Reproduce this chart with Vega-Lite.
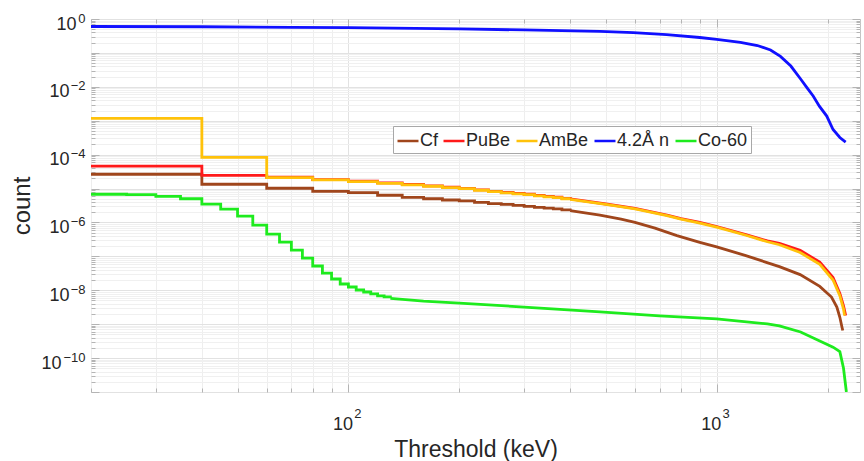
{
  "$schema": "https://vega.github.io/schema/vega-lite/v6.json",
  "width": 769,
  "height": 373,
  "autosize": {"type": "none"},
  "padding": {"left": 91, "top": 19, "right": 4, "bottom": 69},
  "background": "white",
  "config": {
    "view": {"stroke": "#c4c4c4", "strokeWidth": 1},
    "font": "Liberation Sans"
  },
  "data": {
    "values": [
      {"s": "Cf", "E": 20, "c": 2.64e-5}, {"s": "Cf", "E": 40, "c": 1.34e-5}, {"s": "Cf", "E": 60, "c": 1.02e-5},
      {"s": "Cf", "E": 80, "c": 8.3e-6}, {"s": "Cf", "E": 100, "c": 7.6e-6}, {"s": "Cf", "E": 120, "c": 6.35e-6},
      {"s": "Cf", "E": 140, "c": 5.5e-6}, {"s": "Cf", "E": 160, "c": 5.0e-6}, {"s": "Cf", "E": 180, "c": 4.6e-6},
      {"s": "Cf", "E": 200, "c": 4.3e-6}, {"s": "Cf", "E": 220, "c": 3.9e-6}, {"s": "Cf", "E": 240, "c": 3.6e-6},
      {"s": "Cf", "E": 260, "c": 3.4e-6}, {"s": "Cf", "E": 280, "c": 3.2e-6}, {"s": "Cf", "E": 300, "c": 3.0e-6},
      {"s": "Cf", "E": 320, "c": 2.8e-6}, {"s": "Cf", "E": 340, "c": 2.65e-6}, {"s": "Cf", "E": 360, "c": 2.5e-6},
      {"s": "Cf", "E": 380, "c": 2.35e-6}, {"s": "Cf", "E": 400, "c": 2.25e-6}, {"s": "Cf", "E": 482, "c": 1.65e-6},
      {"s": "Cf", "E": 550, "c": 1.25e-6}, {"s": "Cf", "E": 600, "c": 1.0e-6}, {"s": "Cf", "E": 680, "c": 6.8e-7},
      {"s": "Cf", "E": 780, "c": 4.1e-7}, {"s": "Cf", "E": 900, "c": 2.6e-7}, {"s": "Cf", "E": 1000, "c": 1.9e-7},
      {"s": "Cf", "E": 1200, "c": 1.05e-7}, {"s": "Cf", "E": 1480, "c": 5.0e-8}, {"s": "Cf", "E": 1685, "c": 2.9e-8},
      {"s": "Cf", "E": 1905, "c": 1.3e-8}, {"s": "Cf", "E": 2050, "c": 6.3e-9}, {"s": "Cf", "E": 2120, "c": 3.2e-9},
      {"s": "Cf", "E": 2160, "c": 1.6e-9}, {"s": "Cf", "E": 2190, "c": 8.0e-10}, {"s": "Cf", "E": 2200, "c": 6.5e-10},

      {"s": "PuBe", "E": 20, "c": 4.6e-5}, {"s": "PuBe", "E": 40, "c": 2.45e-5}, {"s": "PuBe", "E": 60, "c": 2.15e-5},
      {"s": "PuBe", "E": 80, "c": 1.83e-5}, {"s": "PuBe", "E": 100, "c": 1.65e-5}, {"s": "PuBe", "E": 120, "c": 1.46e-5},
      {"s": "PuBe", "E": 140, "c": 1.32e-5}, {"s": "PuBe", "E": 160, "c": 1.2e-5}, {"s": "PuBe", "E": 180, "c": 1.1e-5},
      {"s": "PuBe", "E": 200, "c": 1.01e-5}, {"s": "PuBe", "E": 220, "c": 9.1e-6}, {"s": "PuBe", "E": 240, "c": 8.3e-6},
      {"s": "PuBe", "E": 260, "c": 7.7e-6}, {"s": "PuBe", "E": 280, "c": 7.2e-6}, {"s": "PuBe", "E": 300, "c": 6.8e-6},
      {"s": "PuBe", "E": 320, "c": 6.3e-6}, {"s": "PuBe", "E": 340, "c": 5.9e-6}, {"s": "PuBe", "E": 360, "c": 5.55e-6},
      {"s": "PuBe", "E": 380, "c": 5.15e-6}, {"s": "PuBe", "E": 400, "c": 4.95e-6}, {"s": "PuBe", "E": 500, "c": 3.5e-6},
      {"s": "PuBe", "E": 600, "c": 2.6e-6}, {"s": "PuBe", "E": 733, "c": 1.65e-6}, {"s": "PuBe", "E": 800, "c": 1.3e-6},
      {"s": "PuBe", "E": 900, "c": 1.0e-6}, {"s": "PuBe", "E": 1000, "c": 7.6e-7}, {"s": "PuBe", "E": 1200, "c": 4.4e-7},
      {"s": "PuBe", "E": 1373, "c": 2.85e-7}, {"s": "PuBe", "E": 1480, "c": 2.4e-7}, {"s": "PuBe", "E": 1685, "c": 1.5e-7},
      {"s": "PuBe", "E": 1905, "c": 6.8e-8}, {"s": "PuBe", "E": 2070, "c": 2.4e-8}, {"s": "PuBe", "E": 2160, "c": 8.0e-9},
      {"s": "PuBe", "E": 2210, "c": 3.5e-9}, {"s": "PuBe", "E": 2240, "c": 1.8e-9},

      {"s": "AmBe", "E": 20, "c": 1.17e-3}, {"s": "AmBe", "E": 40, "c": 8.3e-5}, {"s": "AmBe", "E": 60, "c": 2.11e-5},
      {"s": "AmBe", "E": 80, "c": 1.79e-5}, {"s": "AmBe", "E": 100, "c": 1.61e-5}, {"s": "AmBe", "E": 120, "c": 1.43e-5},
      {"s": "AmBe", "E": 140, "c": 1.29e-5}, {"s": "AmBe", "E": 160, "c": 1.17e-5}, {"s": "AmBe", "E": 180, "c": 1.07e-5},
      {"s": "AmBe", "E": 200, "c": 9.9e-6}, {"s": "AmBe", "E": 220, "c": 8.9e-6}, {"s": "AmBe", "E": 240, "c": 8.1e-6},
      {"s": "AmBe", "E": 260, "c": 7.5e-6}, {"s": "AmBe", "E": 280, "c": 7.0e-6}, {"s": "AmBe", "E": 300, "c": 6.6e-6},
      {"s": "AmBe", "E": 320, "c": 6.1e-6}, {"s": "AmBe", "E": 340, "c": 5.7e-6}, {"s": "AmBe", "E": 360, "c": 5.4e-6},
      {"s": "AmBe", "E": 380, "c": 5.0e-6}, {"s": "AmBe", "E": 400, "c": 4.8e-6}, {"s": "AmBe", "E": 500, "c": 3.4e-6},
      {"s": "AmBe", "E": 600, "c": 2.5e-6}, {"s": "AmBe", "E": 733, "c": 1.6e-6}, {"s": "AmBe", "E": 800, "c": 1.25e-6},
      {"s": "AmBe", "E": 900, "c": 9.6e-7}, {"s": "AmBe", "E": 1000, "c": 7.3e-7}, {"s": "AmBe", "E": 1200, "c": 4.2e-7},
      {"s": "AmBe", "E": 1373, "c": 2.7e-7}, {"s": "AmBe", "E": 1480, "c": 2.2e-7}, {"s": "AmBe", "E": 1685, "c": 1.3e-7},
      {"s": "AmBe", "E": 1905, "c": 5.8e-8}, {"s": "AmBe", "E": 2070, "c": 2.0e-8}, {"s": "AmBe", "E": 2160, "c": 6.9e-9},
      {"s": "AmBe", "E": 2210, "c": 2.8e-9}, {"s": "AmBe", "E": 2225, "c": 1.8e-9},

      {"s": "4.2Å n", "E": 20, "c": 0.6}, {"s": "4.2Å n", "E": 40, "c": 0.59}, {"s": "4.2Å n", "E": 70, "c": 0.57},
      {"s": "4.2Å n", "E": 100, "c": 0.555}, {"s": "4.2Å n", "E": 200, "c": 0.51}, {"s": "4.2Å n", "E": 300, "c": 0.475},
      {"s": "4.2Å n", "E": 482, "c": 0.43}, {"s": "4.2Å n", "E": 594, "c": 0.395}, {"s": "4.2Å n", "E": 731, "c": 0.345},
      {"s": "4.2Å n", "E": 900, "c": 0.285}, {"s": "4.2Å n", "E": 1000, "c": 0.25}, {"s": "4.2Å n", "E": 1160, "c": 0.205},
      {"s": "4.2Å n", "E": 1290, "c": 0.165}, {"s": "4.2Å n", "E": 1400, "c": 0.122}, {"s": "4.2Å n", "E": 1490, "c": 0.079},
      {"s": "4.2Å n", "E": 1590, "c": 0.041}, {"s": "4.2Å n", "E": 1690, "c": 0.017}, {"s": "4.2Å n", "E": 1760, "c": 9.3e-3},
      {"s": "4.2Å n", "E": 1830, "c": 5.3e-3}, {"s": "4.2Å n", "E": 1900, "c": 2.7e-3}, {"s": "4.2Å n", "E": 1990, "c": 1.37e-3},
      {"s": "4.2Å n", "E": 2070, "c": 5.5e-4}, {"s": "4.2Å n", "E": 2160, "c": 3.2e-4}, {"s": "4.2Å n", "E": 2240, "c": 2.35e-4},

      {"s": "Co-60", "E": 20, "c": 6.8e-6}, {"s": "Co-60", "E": 25, "c": 6.6e-6}, {"s": "Co-60", "E": 30, "c": 5.9e-6},
      {"s": "Co-60", "E": 35, "c": 5.0e-6}, {"s": "Co-60", "E": 40, "c": 3.45e-6}, {"s": "Co-60", "E": 45, "c": 2.46e-6},
      {"s": "Co-60", "E": 50, "c": 1.53e-6}, {"s": "Co-60", "E": 55, "c": 8.3e-7}, {"s": "Co-60", "E": 60, "c": 4.5e-7},
      {"s": "Co-60", "E": 65, "c": 2.64e-7}, {"s": "Co-60", "E": 70, "c": 1.53e-7}, {"s": "Co-60", "E": 75, "c": 8.9e-8},
      {"s": "Co-60", "E": 80, "c": 5.2e-8}, {"s": "Co-60", "E": 85, "c": 3.2e-8}, {"s": "Co-60", "E": 90, "c": 2.15e-8},
      {"s": "Co-60", "E": 95, "c": 1.53e-8}, {"s": "Co-60", "E": 100, "c": 1.25e-8}, {"s": "Co-60", "E": 105, "c": 1.02e-8},
      {"s": "Co-60", "E": 110, "c": 8.9e-9}, {"s": "Co-60", "E": 115, "c": 7.8e-9}, {"s": "Co-60", "E": 120, "c": 6.8e-9},
      {"s": "Co-60", "E": 125, "c": 6.35e-9}, {"s": "Co-60", "E": 130, "c": 5.8e-9}, {"s": "Co-60", "E": 160, "c": 4.8e-9},
      {"s": "Co-60", "E": 200, "c": 4.2e-9}, {"s": "Co-60", "E": 300, "c": 3.2e-9}, {"s": "Co-60", "E": 482, "c": 2.3e-9},
      {"s": "Co-60", "E": 700, "c": 1.75e-9}, {"s": "Co-60", "E": 1000, "c": 1.43e-9}, {"s": "Co-60", "E": 1373, "c": 1.02e-9},
      {"s": "Co-60", "E": 1480, "c": 8.9e-10}, {"s": "Co-60", "E": 1690, "c": 5.9e-10}, {"s": "Co-60", "E": 1905, "c": 3.2e-10},
      {"s": "Co-60", "E": 2070, "c": 2.1e-10}, {"s": "Co-60", "E": 2160, "c": 1.55e-10}, {"s": "Co-60", "E": 2210, "c": 5.0e-11},
      {"s": "Co-60", "E": 2250, "c": 1.0e-11}
    ]
  },
  "encoding": {
    "color": {
      "field": "s",
      "type": "nominal",
      "scale": {
        "domain": ["Cf", "PuBe", "AmBe", "4.2Å n", "Co-60"],
        "range": ["#A0461C", "#FF1A1A", "#FFC20A", "#1010FF", "#1EEB1E"]
      },
      "legend": {
        "title": null,
        "orient": "none",
        "legendX": 302,
        "legendY": 107,
        "direction": "horizontal",
        "columns": 5,
        "symbolType": "stroke",
        "symbolSize": 441,
        "symbolStrokeWidth": 2.5,
        "labelFontSize": 18,
        "labelFont": "Liberation Sans",
        "labelColor": "#262626",
        "labelOffset": 0,
        "columnPadding": 0,
        "padding": 3,
        "fillColor": "white",
        "strokeColor": "#a8a8a8"
      }
    }
  },
  "layer": [
    {
      "transform": [{"filter": "datum.s != '4.2Å n' && (datum.s == 'Co-60' ? datum.E <= 130 : datum.E <= 400)"}],
      "mark": {"type": "line", "interpolate": "step-after", "strokeWidth": 2.8, "clip": true},
      "encoding": {
        "x": {
          "field": "E", "type": "quantitative",
          "scale": {"type": "log", "domain": [20, 2450], "nice": false},
          "axis": {
            "orient": "bottom",
            "values": [20, 30, 40, 50, 60, 70, 80, 90, 100, 200, 300, 400, 500, 600, 700, 800, 900, 1000, 2000],
            "labelExpr": "datum.value == 100 || datum.value == 1000 ? '10' : ''",
            "labelOverlap": false,
            "labelBound": false,
            "labelFlush": false,
            "labelFontSize": 18,
            "labelColor": "#262626",
            "labelPadding": 23,
            "labelOffset": -6,
            "domain": false,
            "ticks": false,
            "grid": true,
            "gridColor": {"condition": {"test": "datum.value == 100 || datum.value == 1000", "value": "#e2e2e2"}, "value": "#eeeeee"},
            "title": "Threshold (keV)",
            "titleFontSize": 23,
            "titleFontWeight": "normal",
            "titleColor": "#262626",
            "titlePadding": 5
          }
        },
        "y": {
          "field": "c", "type": "quantitative",
          "scale": {"type": "log", "domain": [1e-11, 1], "nice": false},
          "axis": {
            "orient": "left",
            "values": [1e-11, 2e-11, 3e-11, 4e-11, 5e-11, 6e-11, 7e-11, 8e-11, 9e-11,
                       1e-10, 2e-10, 3e-10, 4e-10, 5e-10, 6e-10, 7e-10, 8e-10, 9e-10,
                       1e-9, 2e-9, 3e-9, 4e-9, 5e-9, 6e-9, 7e-9, 8e-9, 9e-9,
                       1e-8, 2e-8, 3e-8, 4e-8, 5e-8, 6e-8, 7e-8, 8e-8, 9e-8,
                       1e-7, 2e-7, 3e-7, 4e-7, 5e-7, 6e-7, 7e-7, 8e-7, 9e-7,
                       1e-6, 2e-6, 3e-6, 4e-6, 5e-6, 6e-6, 7e-6, 8e-6, 9e-6,
                       1e-5, 2e-5, 3e-5, 4e-5, 5e-5, 6e-5, 7e-5, 8e-5, 9e-5,
                       1e-4, 2e-4, 3e-4, 4e-4, 5e-4, 6e-4, 7e-4, 8e-4, 9e-4,
                       0.001, 0.002, 0.003, 0.004, 0.005, 0.006, 0.007, 0.008, 0.009,
                       0.01, 0.02, 0.03, 0.04, 0.05, 0.06, 0.07, 0.08, 0.09,
                       0.1, 0.2, 0.3, 0.4, 0.5, 0.6, 0.7, 0.8, 0.9, 1],
            "labelExpr": "datum.value == 0.01 || datum.value == 1e-4 || datum.value == 1e-6 || datum.value == 1e-8 ? '10' : ''",
            "labelOverlap": false,
            "labelBound": false,
            "labelFlush": false,
            "labelFontSize": 18,
            "labelColor": "#262626",
            "labelAlign": "right",
            "labelPadding": 22,
            "labelOffset": 5,
            "domain": false,
            "ticks": false,
            "grid": true,
            "gridColor": {"condition": {"test": "abs(log(datum.value)/LN10 - round(log(datum.value)/LN10)) < 0.001", "value": "#e2e2e2"}, "value": "#f0f0f0"},
            "title": "count",
            "titleFontSize": 24,
            "titleFontWeight": "normal",
            "titleColor": "#262626",
            "titlePadding": 14
          }
        }
      }
    },
    {
      "transform": [{"filter": "datum.s == '4.2Å n' || (datum.s == 'Co-60' ? datum.E >= 130 : datum.E >= 400)"}],
      "mark": {"type": "line", "strokeWidth": 2.8, "clip": true},
      "encoding": {
        "x": {
          "field": "E", "type": "quantitative",
          "scale": {"type": "log", "domain": [20, 2450], "nice": false},
          "axis": {
            "orient": "bottom",
            "values": [100, 1000],
            "labelExpr": "datum.value == 100 ? '2' : '3'",
            "labelOverlap": false,
            "labelBound": false,
            "labelFlush": false,
            "labelFontSize": 13,
            "labelColor": "#262626",
            "labelPadding": 15,
            "labelOffset": 9,
            "domain": false,
            "ticks": false,
            "grid": false,
            "title": null
          }
        },
        "y": {
          "field": "c", "type": "quantitative",
          "scale": {"type": "log", "domain": [1e-11, 1], "nice": false},
          "axis": {
            "orient": "left",
            "values": [1e-10, 1e-8, 1e-6, 1e-4, 0.01, 1],
            "labelExpr": "datum.value == 1 ? '0' : datum.value == 0.01 ? '−2' : datum.value == 1e-4 ? '−4' : datum.value == 1e-6 ? '−6' : datum.value == 1e-8 ? '−8' : '−10'",
            "labelOverlap": false,
            "labelBound": false,
            "labelFlush": false,
            "labelFontSize": 13,
            "labelColor": "#262626",
            "labelAlign": "right",
            "labelPadding": 6,
            "labelOffset": -1,
            "domain": false,
            "ticks": false,
            "grid": false,
            "title": null
          }
        }
      }
    },
    {
      "transform": [{"filter": "false"}],
      "mark": {"type": "line", "clip": true},
      "encoding": {
        "x": {"field": "E", "type": "quantitative", "scale": {"type": "log", "domain": [20, 2450], "nice": false}, "axis": null},
        "y": {
          "field": "c", "type": "quantitative",
          "scale": {"type": "log", "domain": [1e-11, 1], "nice": false},
          "axis": {
            "orient": "left",
            "values": [1],
            "labelExpr": "'10'",
            "labelBound": false,
            "labelFlush": false,
            "labelFontSize": 18,
            "labelColor": "#262626",
            "labelAlign": "right",
            "labelPadding": 15,
            "labelOffset": 5,
            "domain": false,
            "ticks": false,
            "grid": false,
            "title": null
          }
        }
      }
    },
    {
      "transform": [{"filter": "false"}],
      "mark": {"type": "line", "clip": true},
      "encoding": {
        "x": {"field": "E", "type": "quantitative", "scale": {"type": "log", "domain": [20, 2450], "nice": false}, "axis": null},
        "y": {
          "field": "c", "type": "quantitative",
          "scale": {"type": "log", "domain": [1e-11, 1], "nice": false},
          "axis": {
            "orient": "left",
            "values": [1e-10],
            "labelExpr": "'10'",
            "labelBound": false,
            "labelFlush": false,
            "labelFontSize": 18,
            "labelColor": "#262626",
            "labelAlign": "right",
            "labelPadding": 30,
            "labelOffset": 5,
            "domain": false,
            "ticks": false,
            "grid": false,
            "title": null
          }
        }
      }
    },
    {
      "transform": [{"filter": "false"}],
      "mark": {"type": "line", "clip": true},
      "encoding": {
        "x": {
          "field": "E", "type": "quantitative",
          "scale": {"type": "log", "domain": [20, 2450], "nice": false},
          "axis": {
            "orient": "top",
            "values": [20, 30, 40, 50, 60, 70, 80, 90, 100, 200, 300, 400, 500, 600, 700, 800, 900, 1000, 2000],
            "labels": false,
            "domain": false,
            "grid": false,
            "tickColor": "#b4b4b4",
            "tickSize": {"condition": {"test": "datum.value == 100 || datum.value == 1000", "value": -8}, "value": -4},
            "title": null
          }
        },
        "y": {
          "field": "c", "type": "quantitative",
          "scale": {"type": "log", "domain": [1e-11, 1], "nice": false},
          "axis": {
            "orient": "right",
            "values": [1e-11, 2e-11, 3e-11, 4e-11, 5e-11, 6e-11, 7e-11, 8e-11, 9e-11,
                       1e-10, 2e-10, 3e-10, 4e-10, 5e-10, 6e-10, 7e-10, 8e-10, 9e-10,
                       1e-9, 2e-9, 3e-9, 4e-9, 5e-9, 6e-9, 7e-9, 8e-9, 9e-9,
                       1e-8, 2e-8, 3e-8, 4e-8, 5e-8, 6e-8, 7e-8, 8e-8, 9e-8,
                       1e-7, 2e-7, 3e-7, 4e-7, 5e-7, 6e-7, 7e-7, 8e-7, 9e-7,
                       1e-6, 2e-6, 3e-6, 4e-6, 5e-6, 6e-6, 7e-6, 8e-6, 9e-6,
                       1e-5, 2e-5, 3e-5, 4e-5, 5e-5, 6e-5, 7e-5, 8e-5, 9e-5,
                       1e-4, 2e-4, 3e-4, 4e-4, 5e-4, 6e-4, 7e-4, 8e-4, 9e-4,
                       0.001, 0.002, 0.003, 0.004, 0.005, 0.006, 0.007, 0.008, 0.009,
                       0.01, 0.02, 0.03, 0.04, 0.05, 0.06, 0.07, 0.08, 0.09,
                       0.1, 0.2, 0.3, 0.4, 0.5, 0.6, 0.7, 0.8, 0.9, 1],
            "labels": false,
            "domain": false,
            "grid": false,
            "tickColor": "#b4b4b4",
            "tickSize": {"condition": {"test": "abs(log(datum.value)/LN10 - round(log(datum.value)/LN10)) < 0.001", "value": -8}, "value": -4},
            "title": null
          }
        }
      }
    },
    {
      "transform": [{"filter": "false"}],
      "mark": {"type": "line", "clip": true},
      "encoding": {
        "x": {
          "field": "E", "type": "quantitative",
          "scale": {"type": "log", "domain": [20, 2450], "nice": false},
          "axis": {
            "orient": "bottom",
            "values": [20, 30, 40, 50, 60, 70, 80, 90, 100, 200, 300, 400, 500, 600, 700, 800, 900, 1000, 2000],
            "labels": false,
            "domain": false,
            "grid": false,
            "tickColor": "#b4b4b4",
            "tickSize": {"condition": {"test": "datum.value == 100 || datum.value == 1000", "value": -8}, "value": -4},
            "title": null
          }
        },
        "y": {
          "field": "c", "type": "quantitative",
          "scale": {"type": "log", "domain": [1e-11, 1], "nice": false},
          "axis": {
            "orient": "left",
            "values": [1e-11, 2e-11, 3e-11, 4e-11, 5e-11, 6e-11, 7e-11, 8e-11, 9e-11,
                       1e-10, 2e-10, 3e-10, 4e-10, 5e-10, 6e-10, 7e-10, 8e-10, 9e-10,
                       1e-9, 2e-9, 3e-9, 4e-9, 5e-9, 6e-9, 7e-9, 8e-9, 9e-9,
                       1e-8, 2e-8, 3e-8, 4e-8, 5e-8, 6e-8, 7e-8, 8e-8, 9e-8,
                       1e-7, 2e-7, 3e-7, 4e-7, 5e-7, 6e-7, 7e-7, 8e-7, 9e-7,
                       1e-6, 2e-6, 3e-6, 4e-6, 5e-6, 6e-6, 7e-6, 8e-6, 9e-6,
                       1e-5, 2e-5, 3e-5, 4e-5, 5e-5, 6e-5, 7e-5, 8e-5, 9e-5,
                       1e-4, 2e-4, 3e-4, 4e-4, 5e-4, 6e-4, 7e-4, 8e-4, 9e-4,
                       0.001, 0.002, 0.003, 0.004, 0.005, 0.006, 0.007, 0.008, 0.009,
                       0.01, 0.02, 0.03, 0.04, 0.05, 0.06, 0.07, 0.08, 0.09,
                       0.1, 0.2, 0.3, 0.4, 0.5, 0.6, 0.7, 0.8, 0.9, 1],
            "labels": false,
            "domain": false,
            "grid": false,
            "tickColor": "#b4b4b4",
            "tickSize": {"condition": {"test": "abs(log(datum.value)/LN10 - round(log(datum.value)/LN10)) < 0.001", "value": -8}, "value": -4},
            "title": null
          }
        }
      }
    }
  ],
  "resolve": {"axis": {"x": "independent", "y": "independent"}}
}
